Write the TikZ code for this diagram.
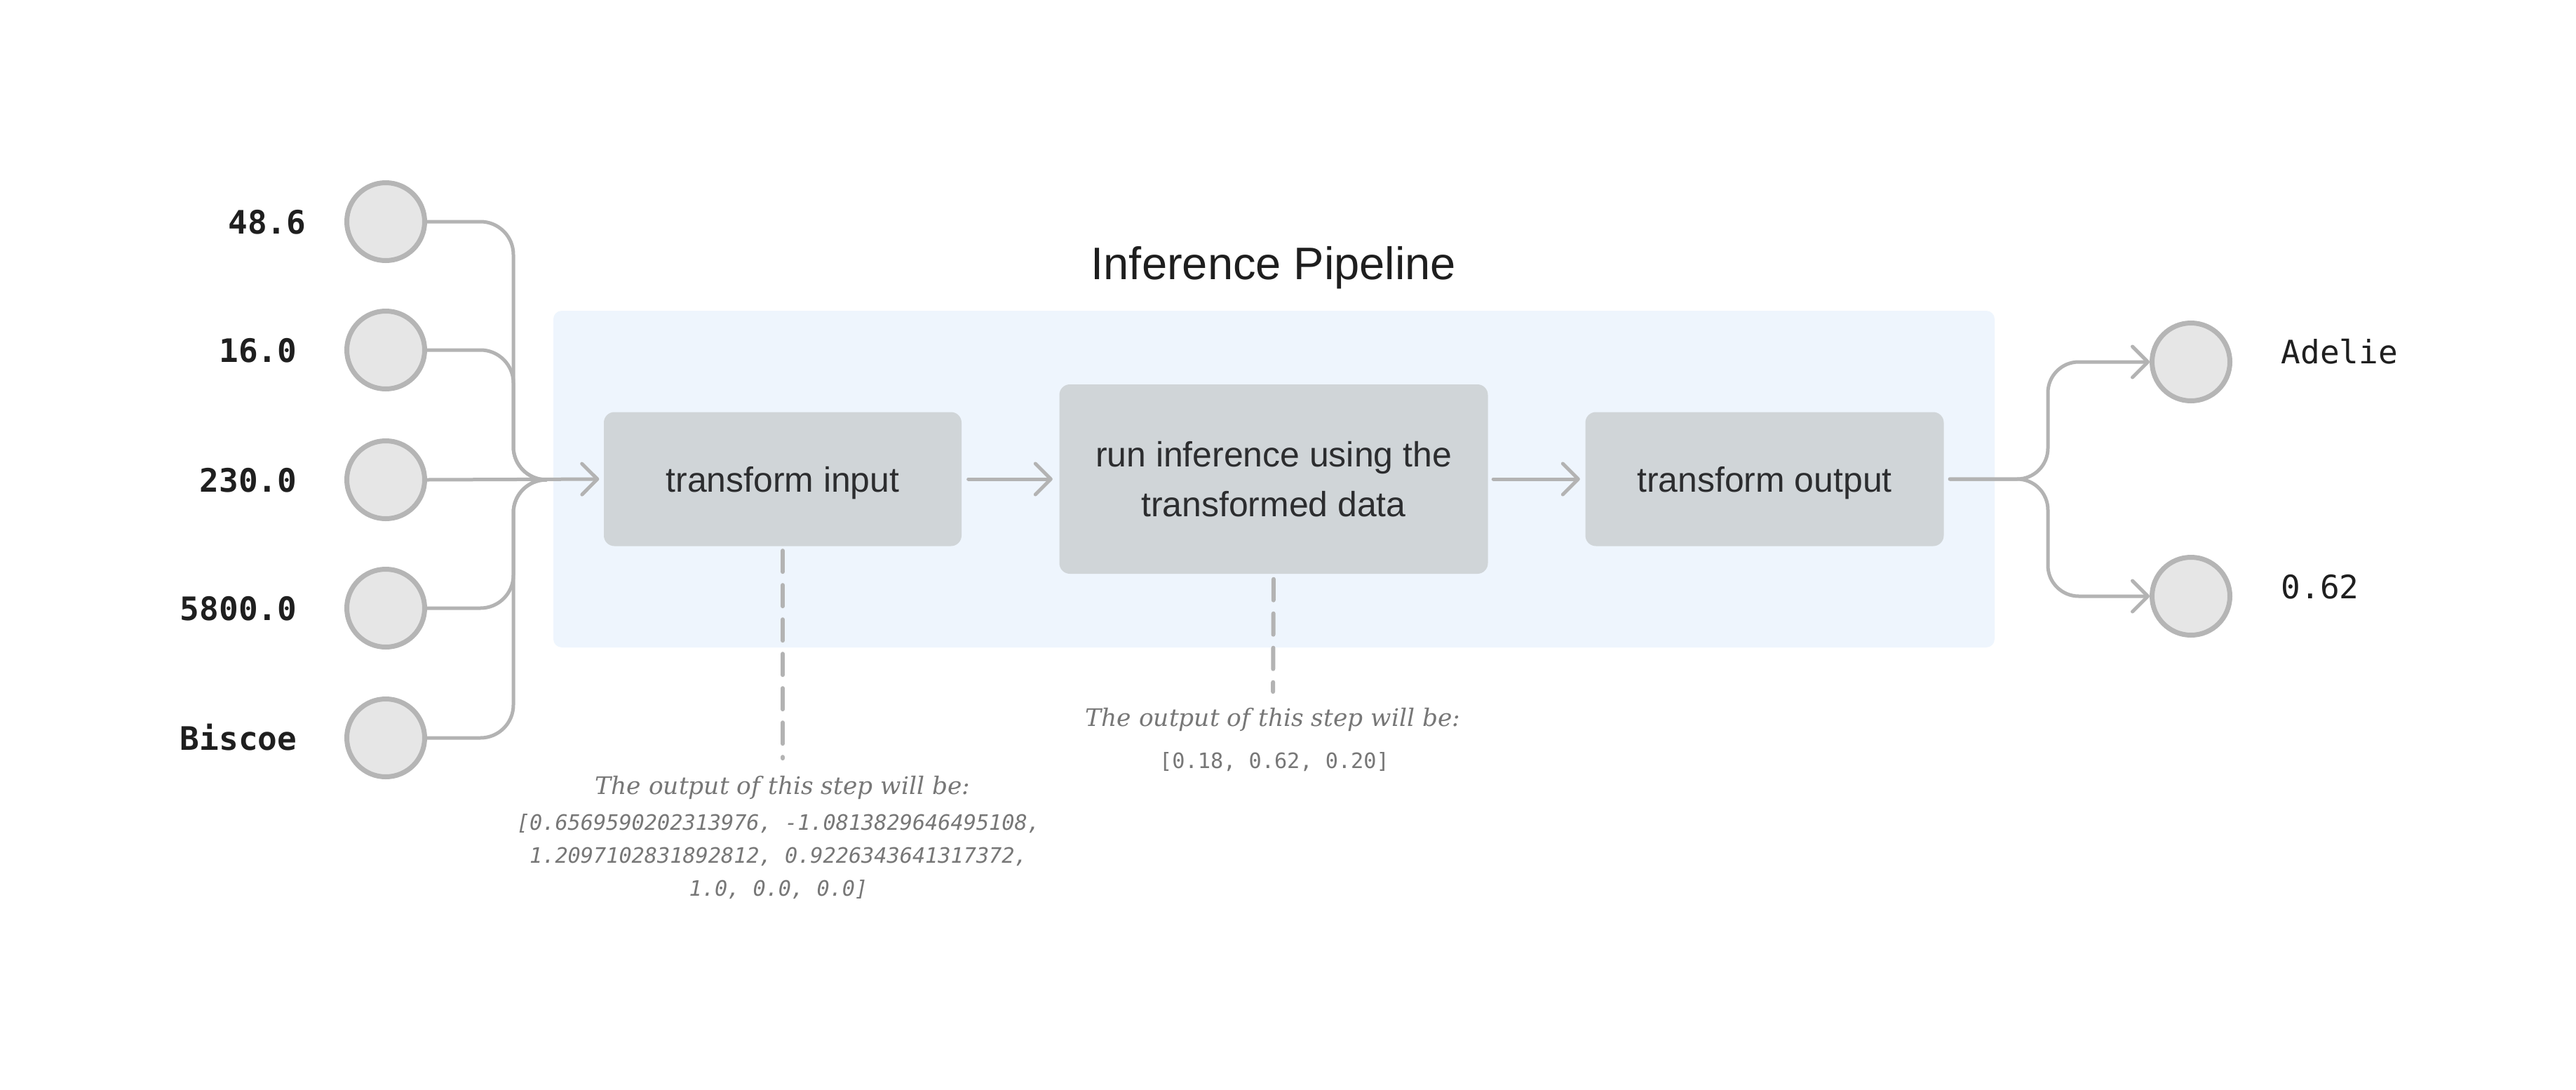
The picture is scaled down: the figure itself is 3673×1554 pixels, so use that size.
\documentclass[tikz,border=0pt]{standalone}
\usepackage{fontspec}
\setmainfont{Liberation Sans}
\newfontfamily\monofont{DejaVu Sans Mono}
\newfontfamily\notefont{DejaVu Serif}
\usetikzlibrary{arrows.meta}
\definecolor{pipebg}{HTML}{EEF5FD}
\definecolor{boxfill}{HTML}{D0D5D8}
\definecolor{circfill}{HTML}{E6E6E6}
\definecolor{circline}{HTML}{B5B5B5}
\definecolor{connline}{HTML}{B3B3B3}
\definecolor{boxtext}{HTML}{2C2D2F}
\definecolor{titletext}{HTML}{1E1E1E}
\definecolor{labeltext}{HTML}{1F1F1F}
\definecolor{notetext}{HTML}{777777}
\tikzset{
  pipebox/.style={fill=pipebg, rounded corners=1.2mm, inner sep=0pt,
    minimum width=205.5mm, minimum height=48mm},
  stepbox/.style={fill=boxfill, rounded corners=1.5mm, inner sep=0pt,
    text=boxtext, align=center, text depth=0pt,
    font=\fontsize{14.2pt}{20.4pt}\selectfont},
  valcirc/.style={circle, draw=circline, fill=circfill, line width=0.7mm,
    minimum size=11.1mm, inner sep=0pt},
  inlabel/.style={anchor=base east, inner sep=0pt, text=labeltext,
    font=\monofont\bfseries\fontsize{13.1pt}{16pt}\selectfont},
  outlabel/.style={anchor=base west, inner sep=0pt, text=labeltext,
    font=\monofont\fontsize{13.1pt}{16pt}\selectfont},
  conn/.style={draw=connline, line width=0.5mm, line cap=round, line join=round},
  tipped/.style={-{Straight Barb[length=2.2mm,width=4.4mm,round]}},
  dashline/.style={draw=connline, line width=0.6mm, line cap=round,
    dash pattern=on 3mm off 1.9mm},
  notehead/.style={anchor=base, inner sep=0pt, text=notetext,
    font=\notefont\itshape\fontsize{9.8pt}{12pt}\selectfont},
  notecode/.style={anchor=base, inner sep=0pt, text=notetext, align=center,
    font=\monofont\fontsize{8.6pt}{13.4pt}\selectfont},
}
\begin{document}
\begin{tikzpicture}[x=0.1mm,y=-0.1mm]
\useasboundingbox[fill=white] (0,0) rectangle (3673,1554);

% pipeline background and title
\node[pipebox] (pipe) at (1816.5,683) {};
\node[anchor=base, inner sep=0pt, text=titletext,
  font=\fontsize{18.5pt}{22pt}\selectfont] (title) at (1816,398) {Inference Pipeline};

% steps
\node[stepbox, minimum width=51mm, minimum height=19.1mm] (s1) at (1116,683) {transform input};
\node[stepbox, minimum width=61.1mm, minimum height=27mm] (s2) at (1816,683) {run inference using the\\transformed data};
\node[stepbox, minimum width=51.1mm, minimum height=19.1mm] (s3) at (2516,683) {transform output};

% input circles
\node[valcirc] (c1) at (550,316) {};
\node[valcirc] (c2) at (550,499) {};
\node[valcirc] (c3) at (550,684) {};
\node[valcirc] (c4) at (550,867) {};
\node[valcirc] (c5) at (550,1052) {};

\node[inlabel] (l1) at (437,333) {48.6};
\node[inlabel] (l2) at (424,516) {16.0};
\node[inlabel] (l3) at (424,701) {230.0};
\node[inlabel] (l4) at (424,884) {5800.0};
\node[inlabel] (l5) at (424,1069) {Biscoe};

% output circles
\node[valcirc] (o1) at (3124,516) {};
\node[valcirc] (o2) at (3124,850) {};
\node[outlabel] (m1) at (3252,518) {Adelie};
\node[outlabel] (m2) at (3252,853) {0.62};

% junctions
\coordinate (trunk) at (732,684);
\coordinate (jin) at (779,684);
\coordinate (trout) at (2920,683);

% input connectors
\foreach \c in {c1,c2,c4,c5}{
  \draw[conn, rounded corners=4.7mm] (\c.east) -- (\c.east -| trunk) -- (trunk) -- (jin);
}
\draw[conn, tipped, shorten >=0.6mm] (c3.east) -- (s1.west);

% step connectors
\draw[conn, tipped, shorten <=0.9mm, shorten >=0.9mm] (s1.east) -- (s2.west);
\draw[conn, tipped, shorten <=0.7mm, shorten >=0.7mm] (s2.east) -- (s3.west);

% output connectors
\draw[conn, tipped, rounded corners=4.4mm, shorten <=0.8mm] (s3.east) -- (trout) -- (trout |- o1) -- (o1.west);
\draw[conn, tipped, rounded corners=4.4mm, shorten <=0.8mm] (s3.east) -- (trout) -- (trout |- o2) -- (o2.west);

% notes
\node[notehead] (n1) at (1116,1132) {The output of this step will be:};
\node[notecode, anchor=north] (n1code) at (1110,1160) {\itshape [0.6569590202313976, -1.0813829646495108,\\\itshape 1.2097102831892812, 0.9226343641317372,\\\itshape 1.0, 0.0, 0.0]};
\node[notehead] (n2) at (1815,1035) {The output of this step will be:};
\node[notecode] (n2code) at (1817,1095) {[0.18, 0.62, 0.20]};

\draw[dashline, shorten <=0.6mm, shorten >=2.4mm] (s1.south) -- (n1.north);
\draw[dashline, shorten <=0.7mm, shorten >=2.2mm] (s2.south) -- (n2.north);
\end{tikzpicture}
\end{document}
